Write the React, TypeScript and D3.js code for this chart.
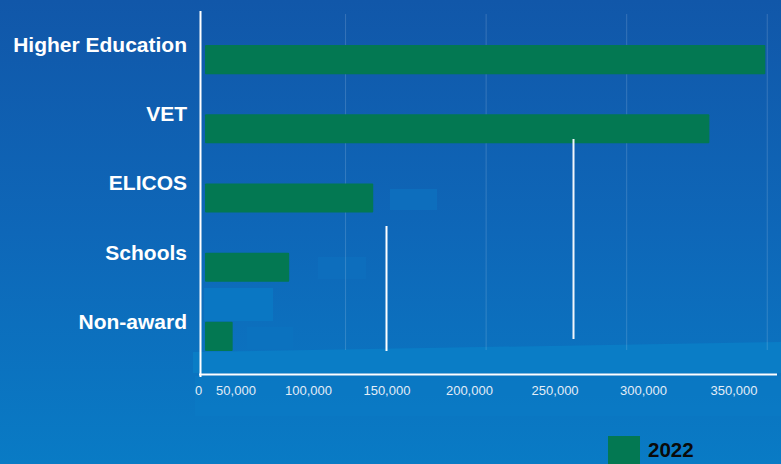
import React from 'react';
import * as d3 from 'd3';

const categories = ['Higher Education', 'VET', 'ELICOS', 'Schools', 'Non-award'];
const values2022 = [370700, 333700, 111300, 55700, 18300];
const tickValues = [0, 50000, 100000, 150000, 200000, 250000, 300000, 350000];
const gridValues = [93000, 186000, 279000, 372000];
const seriesName = '2022';

const W = 781;
const H = 464;
const FONT = '"Liberation Sans", Arial, Helvetica, sans-serif';
const GREEN = '#037852';

export default function App() {
  const axisX = 200.5;
  const axisY = 374.5;
  const x = d3.scaleLinear().domain([0, 350000]).range([205, 734]);
  const y = d3
    .scaleBand<string>()
    .domain(categories)
    .range([25, 371])
    .paddingInner(0.58)
    .paddingOuter(0.29);
  const tickPos = d3.scalePow().exponent(1.15).domain([50000, 350000]).range([236, 734]);
  const fmt = d3.format(',');

  return (
    <svg
      width={W}
      height={H}
      viewBox={`0 0 ${W} ${H}`}
      style={{ position: 'absolute', left: 0, top: 0, display: 'block' }}
    >
      <defs>
        <linearGradient id="bg" x1="0" y1="0" x2="0" y2="1">
          <stop offset="0" stopColor="#1157a9" />
          <stop offset="0.5" stopColor="#0e67b8" />
          <stop offset="1" stopColor="#097bc5" />
        </linearGradient>
      </defs>
      <rect x={0} y={0} width={W} height={H} fill="url(#bg)" />
      {/* decorative lighter shapes of the background */}
      <rect x={195} y={376} width={586} height={40} fill="#0a7bc6" opacity={0.5} />
      <polygon points="193,352 781,342 781,373 193,373" fill="#0a7dc6" />
      <rect x={390} y={189} width={47} height={21} fill="#0d6ebd" />
      <rect x={318} y={257} width={48} height={22} fill="#0d6ebd" />
      <rect x={204} y={288} width={69} height={33} fill="#0a77c3" />
      <rect x={247} y={327} width={46} height={22} fill="#0b72bf" />

      {/* gridlines */}
      {gridValues.map((g) => (
        <line
          key={g}
          x1={x(g)}
          x2={x(g)}
          y1={14}
          y2={350}
          stroke="#ffffff"
          strokeOpacity={0.16}
          strokeWidth={1}
        />
      ))}

      {/* bars */}
      {categories.map((c, i) => (
        <rect
          key={c}
          x={x(0)}
          y={y(c)}
          width={x(values2022[i]) - x(0)}
          height={y.bandwidth()}
          fill={GREEN}
          rx={1}
        />
      ))}

      {/* decorative white vertical lines */}
      <line x1={386.5} x2={386.5} y1={226} y2={351} stroke="#ffffff" strokeWidth={2} />
      <line x1={573.5} x2={573.5} y1={139} y2={339} stroke="#f2f6fb" strokeWidth={2} />

      {/* axes */}
      <line x1={axisX} x2={axisX} y1={11} y2={377} stroke="#ffffff" strokeWidth={2} />
      <line x1={199} x2={777} y1={axisY} y2={axisY} stroke="#ffffff" strokeWidth={2} />

      {/* category labels */}
      {categories.map((c) => (
        <text
          key={c}
          x={187}
          y={(y(c) as number) + 7}
          textAnchor="end"
          fill="#ffffff"
          fontFamily={FONT}
          fontWeight="bold"
          fontSize={21}
        >
          {c}
        </text>
      ))}

      {/* tick labels */}
      {tickValues.map((t) => (
        <text
          key={t}
          x={t === 0 ? axisX - 2 : tickPos(t)}
          y={395}
          textAnchor="middle"
          fill="#e3edf7"
          fontFamily={FONT}
          fontSize={13}
        >
          {fmt(t)}
        </text>
      ))}

      {/* legend */}
      <rect x={608} y={436} width={32} height={30} fill={GREEN} />
      <text x={648} y={457} fill="#0a0a0a" fontFamily={FONT} fontWeight="bold" fontSize={20.5}>
        {seriesName}
      </text>
    </svg>
  );
}
